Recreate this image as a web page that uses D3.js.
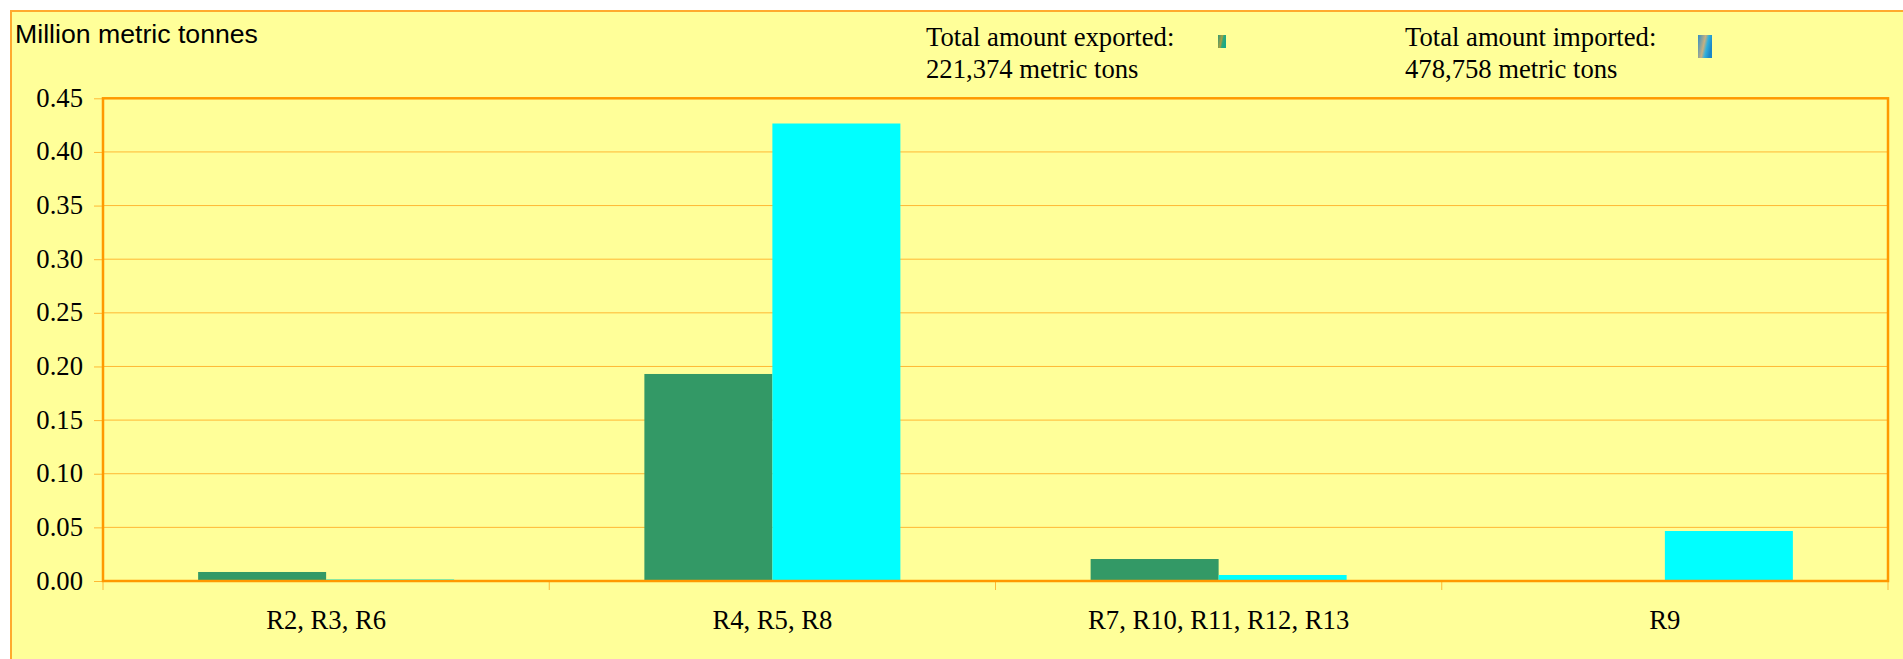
<!DOCTYPE html>
<html>
<head>
<meta charset="utf-8">
<script src="https://cdn.jsdelivr.net/npm/d3@7"></script>
<style>
html,body{margin:0;padding:0;background:#fff;overflow:hidden}
svg{display:block}
</style>
</head>
<body>
<svg id="chart" width="1903" height="659"></svg>
<script>
const categories = ["R2, R3, R6", "R4, R5, R8", "R7, R10, R11, R12, R13", "R9"];
const seriesNames = ["Exported", "Imported"];
const exported = [0.0084, 0.193, 0.0205, 0];
const imported = [0.0015, 0.4265, 0.0056, 0.0466];
const yTicks = [0, 0.05, 0.10, 0.15, 0.20, 0.25, 0.30, 0.35, 0.40, 0.45];
const yTitle = "Million metric tonnes";
const legendExported = ["Total amount exported:", "221,374 metric tons"];
const legendImported = ["Total amount imported:", "478,758 metric tons"];

const W = 1903, H = 659;
const plot = {left: 103, right: 1888, top: 98.3, bottom: 581};
const ORANGE = "#FF9900", GRID = "#FFB833", FRAME = "#FFAA2E", BG = "#FFFF99";
const GREEN = "#339966", CYAN = "#00FFFF";
const SERIF = "'Liberation Serif','Times New Roman',serif";
const SANS = "'Liberation Sans',Arial,sans-serif";
const FONT = 26.67;

const svg = d3.select("#chart");
const defs = svg.append("defs");

function iconGradient(id, stops) {
  const g = defs.append("linearGradient").attr("id", id)
    .attr("x1", 0).attr("x2", 1).attr("y1", 0).attr("y2", 0.35);
  stops.forEach(s => g.append("stop").attr("offset", s[0]).attr("stop-color", s[1]));
}
iconGradient("iconA", [[0, "#2F9A78"], [0.5, "#A8A040"], [0.7, "#2FA878"], [1, "#18A888"]]);
iconGradient("iconB", [[0, "#2F8FC8"], [0.5, "#C8B080"], [0.72, "#30B0DC"], [1, "#1C88C8"]]);

// panel
svg.append("rect")
  .attr("x", 11).attr("y", 11).attr("width", W).attr("height", H)
  .attr("fill", BG).attr("stroke", FRAME).attr("stroke-width", 2);

const y = d3.scaleLinear().domain([0, 0.45]).range([plot.bottom, plot.top]);
const x0 = d3.scaleBand().domain(categories).range([plot.left, plot.right]);
const x1 = d3.scaleBand().domain(seriesNames)
  .range([x0.bandwidth() / 2 - 128, x0.bandwidth() / 2 + 128]);

// gridlines
svg.append("g").selectAll("line").data(yTicks.filter(d => d > 0 && d < 0.45)).join("line")
  .attr("x1", plot.left).attr("x2", plot.right)
  .attr("y1", d => y(d)).attr("y2", d => y(d))
  .attr("stroke", GRID).attr("stroke-width", 1);

// bars
const seriesValues = {Exported: exported, Imported: imported};
const seriesColors = {Exported: GREEN, Imported: CYAN};
seriesNames.forEach(name => {
  svg.append("g").selectAll("rect").data(seriesValues[name].map((v, i) => ({v, c: categories[i]})))
    .join("rect")
    .attr("x", d => x0(d.c) + x1(name))
    .attr("width", x1.bandwidth())
    .attr("y", d => y(d.v))
    .attr("height", d => y(0) - y(d.v))
    .attr("fill", seriesColors[name]);
});

// y axis
const yAxis = svg.append("g")
  .attr("transform", `translate(${plot.left},0)`)
  .call(d3.axisLeft(y).tickValues(yTicks).tickFormat(d3.format(".2f")).tickSize(9).tickPadding(11));
yAxis.select(".domain").remove();
yAxis.selectAll("line").attr("stroke", GRID).attr("stroke-width", 1);
yAxis.selectAll("text")
  .attr("font-family", SERIF).attr("font-size", FONT).attr("fill", "#000").attr("dy", "0.3em");

// x axis labels and boundary ticks
const xAxis = svg.append("g")
  .attr("transform", `translate(0,${plot.bottom})`)
  .call(d3.axisBottom(x0).tickSize(0).tickPadding(29));
xAxis.select(".domain").remove();
xAxis.selectAll("text")
  .attr("font-family", SERIF).attr("font-size", FONT).attr("fill", "#000");
svg.append("g").selectAll("line")
  .data(categories.map(c => x0(c)).concat([plot.right])).join("line")
  .attr("x1", d => d).attr("x2", d => d)
  .attr("y1", plot.bottom).attr("y2", plot.bottom + 9)
  .attr("stroke", GRID).attr("stroke-width", 1);

// plot frame
svg.append("rect")
  .attr("x", plot.left).attr("y", plot.top)
  .attr("width", plot.right - plot.left).attr("height", plot.bottom - plot.top)
  .attr("fill", "none").attr("stroke", ORANGE).attr("stroke-width", 2.5);

// title
svg.append("text").attr("x", 15).attr("y", 42.5)
  .attr("font-family", SANS).attr("font-size", FONT).attr("fill", "#000").text(yTitle);

// legends
function legend(lines, tx, iconX, iconW, iconH, grad) {
  lines.forEach((t, i) => {
    svg.append("text").attr("x", tx).attr("y", 46 + i * 32)
      .attr("font-family", SERIF).attr("font-size", FONT).attr("fill", "#000").text(t);
  });
  svg.append("rect").attr("x", iconX).attr("y", 35)
    .attr("width", iconW).attr("height", iconH).attr("fill", `url(#${grad})`);
}
legend(legendExported, 926, 1218, 8, 13, "iconA");
legend(legendImported, 1405, 1698, 14, 23, "iconB");
</script>
</body>
</html>
